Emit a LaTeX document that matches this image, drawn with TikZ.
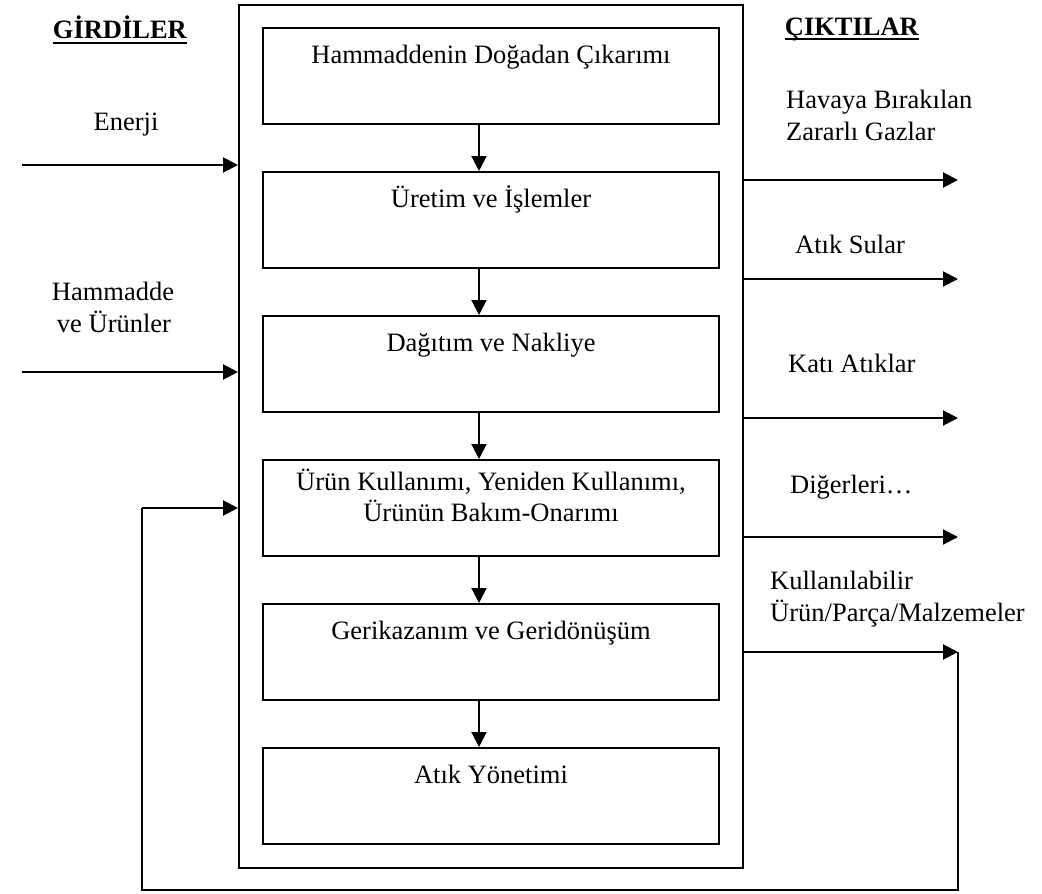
\documentclass[tikz,border=0pt]{standalone}
\usepackage{fontspec}
\setmainfont{Liberation Serif}
\usetikzlibrary{arrows.meta,calc}
\begin{document}
\begin{tikzpicture}[x=1pt,y=-1pt,
  every node/.style={font=\fontsize{26.5}{32}\selectfont},
  box/.style={draw,line width=2pt,minimum width=456pt,minimum height=96pt,inner sep=0pt,anchor=north west},
  txt/.style={inner sep=0pt,anchor=base},
  ltxt/.style={inner sep=0pt,anchor=base west},
  arr/.style={line width=2pt,-{Triangle[length=15pt,width=15pt]}},
  fb/.style={line width=2pt},
  uline/.style={line width=1.6pt},
]
\useasboundingbox (0,0) rectangle (1042,894);
% outer frame
\node[draw,line width=2pt,minimum width=504pt,minimum height=863pt,inner sep=0pt,anchor=north west] (outer) at (238,4) {};
% stage boxes
\node[box] (b1) at (262,27) {};
\node[box] (b2) at (262,171) {};
\node[box] (b3) at (262,315) {};
\node[box] (b4) at (262,459) {};
\node[box] (b5) at (262,603) {};
\node[box] (b6) at (262,747) {};
\node[txt] (t1) at ($(b1.north)+(0,36)$) {Hammaddenin Doğadan Çıkarımı};
\node[txt] (t2) at ($(b2.north)+(0,36)$) {Üretim ve İşlemler};
\node[txt] (t3) at ($(b3.north)+(0,36)$) {Dağıtım ve Nakliye};
\node[txt] (t4a) at ($(b4.north)+(0,31)$) {Ürün Kullanımı, Yeniden Kullanımı,};
\node[txt] (t4b) at ($(b4.north)+(0,62)$) {Ürünün Bakım-Onarımı};
\node[txt] (t5) at ($(b5.north)+(0,36)$) {Gerikazanım ve Geridönüşüm};
\node[txt] (t6) at ($(b6.north)+(0,36)$) {Atık Yönetimi};
% arrows between boxes
\foreach \a/\b in {b1/b2,b2/b3,b3/b4,b4/b5,b5/b6}
  \draw[arr] ([xshift=-12pt]\a.south) -- ([xshift=-12pt]\b.north);
% headings
\node[txt] (hin) at (120,38) {\textbf{GİRDİLER}};
\node[txt] (hout) at (852,35) {\textbf{ÇIKTILAR}};
\draw[uline] ([yshift=-5pt]hin.base west) -- ([yshift=-5pt]hin.base east);
\draw[uline] ([yshift=-4pt]hout.base west) -- ([yshift=-4pt]hout.base east);
% inputs
\node[txt] (lin1) at (126,130) {Enerji};
\node[txt] (lin2a) at (113,300) {Hammadde};
\node[txt] (lin2b) at (114,332) {ve Ürünler};
\coordinate (i1) at (22,165);
\coordinate (i2) at (22,372);
\draw[arr] (i1) -- (i1 -| outer.west);
\draw[arr] (i2) -- (i2 -| outer.west);
% outputs
\node[ltxt] (lo1a) at (786,108) {Havaya Bırakılan};
\node[ltxt] (lo1b) at (786,140) {Zararlı Gazlar};
\node[ltxt] (lo2) at (795,253) {Atık Sular};
\node[ltxt] (lo3) at (788,372) {Katı Atıklar};
\node[ltxt] (lo4) at (790,493) {Diğerleri…};
\node[ltxt] (lo5a) at (770,589) {Kullanılabilir};
\node[ltxt] (lo5b) at (770,621) {Ürün/Parça/Malzemeler};
\coordinate (o1) at (958,180);
\coordinate (o2) at (958,279);
\coordinate (o3) at (958,418);
\coordinate (o4) at (958,537);
\coordinate (o5) at (958,652);
\foreach \o in {o1,o2,o3,o4,o5}
  \draw[arr] (\o -| outer.east) -- (\o);
% feedback loop
\coordinate (f1) at (958,890);
\coordinate (f2) at (142,890);
\coordinate (f3) at (142,508);
\draw[fb] (o5) -- (f1) -- (f2) -- (f3);
\draw[arr] (f3) -- (f3 -| outer.west);
\end{tikzpicture}
\end{document}
